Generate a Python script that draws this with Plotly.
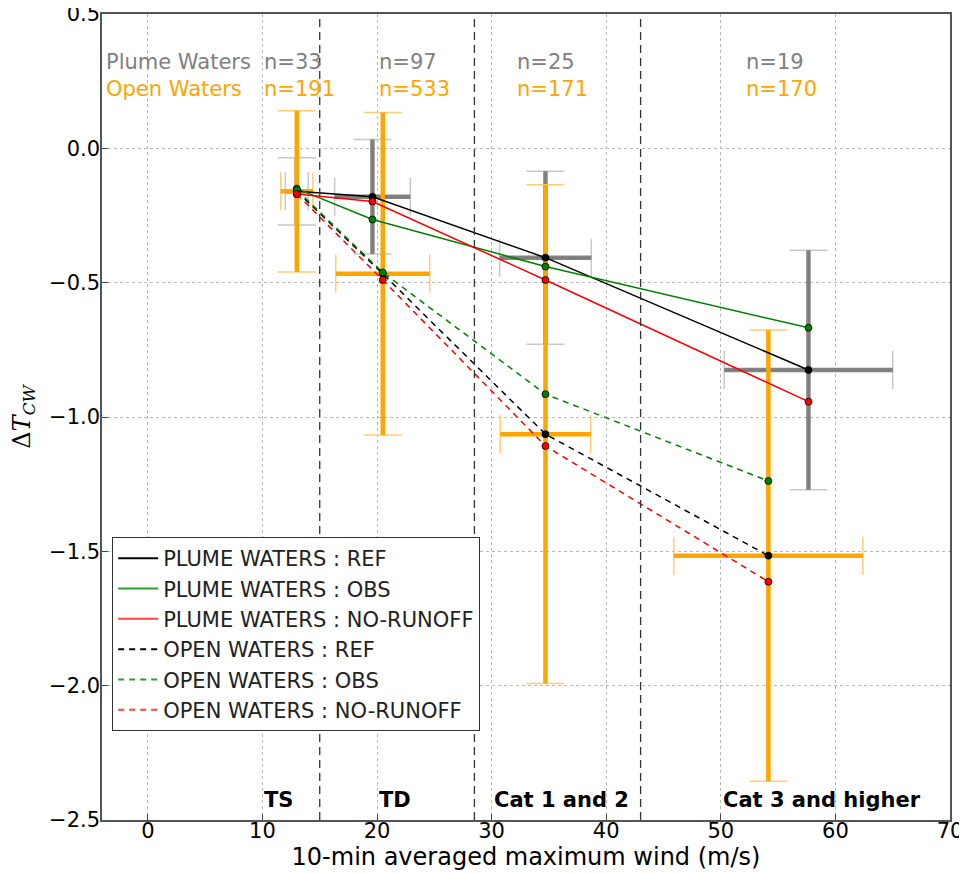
import plotly.graph_objects as go

# ---------------- data ----------------
wind_plume = [13.0, 19.6, 34.7, 57.65]
wind_plume_err = [1.0, 3.3, 4.0, 7.35]
wind_open = [13.0, 20.5, 34.7, 54.15]
wind_open_err = [1.4, 4.1, 3.95, 8.25]

plume_ref = [-0.16, -0.18, -0.407, -0.825]
plume_ref_err = [0.125, 0.213, 0.322, 0.446]
plume_obs = [-0.15, -0.265, -0.44, -0.668]
plume_norunoff = [-0.17, -0.198, -0.49, -0.943]

open_ref = [-0.16, -0.467, -1.064, -1.516]
open_ref_err = [0.30, 0.60, 0.928, 0.84]
open_obs = [-0.155, -0.462, -0.915, -1.238]
open_norunoff = [-0.17, -0.49, -1.108, -1.613]

n_plume = ["n=33", "n=97", "n=25", "n=19"]
n_open = ["n=191", "n=533", "n=171", "n=170"]
n_label_x = [10, 20, 32, 52]

category_names = ["TS", "TD", "Cat 1 and 2", "Cat 3 and higher"]
category_label_x = [10, 20, 30, 50]
category_bounds = [15, 28.5, 43]

x_ticks = [0, 10, 20, 30, 40, 50, 60, 70]
y_ticks = [0.5, 0.0, -0.5, -1.0, -1.5, -2.0, -2.5]

GRAY_BAR = "rgba(110,110,110,0.85)"
GRAY_CAP = "rgba(200,200,200,1)"
ORANGE_BAR = "rgba(255,165,0,1)"
ORANGE_CAP = "rgba(255,205,120,1)"

fig = go.Figure()


def add_errorbars(x, y, xe, ye, bar_color, cap_color):
    # thin light caps
    fig.add_trace(go.Scatter(
        x=x, y=y, mode="markers", marker=dict(size=1, color=cap_color, opacity=0),
        error_x=dict(type="data", array=xe, color=cap_color, thickness=1.5, width=19),
        error_y=dict(type="data", array=ye, color=cap_color, thickness=1.5, width=19),
        showlegend=False, hoverinfo="skip"))
    # thick bars without caps
    fig.add_trace(go.Scatter(
        x=x, y=y, mode="markers", marker=dict(size=1, color=bar_color, opacity=0),
        error_x=dict(type="data", array=xe, color=bar_color, thickness=4.5, width=0),
        error_y=dict(type="data", array=ye, color=bar_color, thickness=4.5, width=0),
        showlegend=False, hoverinfo="skip"))


add_errorbars(wind_plume, plume_ref, wind_plume_err, plume_ref_err, GRAY_BAR, GRAY_CAP)
add_errorbars(wind_open, open_ref, wind_open_err, open_ref_err, ORANGE_BAR, ORANGE_CAP)

series = [
    ("PLUME WATERS : REF", wind_plume, plume_ref, "black", "solid"),
    ("PLUME WATERS : OBS", wind_plume, plume_obs, "green", "solid"),
    ("PLUME WATERS : NO-RUNOFF", wind_plume, plume_norunoff, "red", "solid"),
    ("OPEN WATERS : REF", wind_open, open_ref, "black", "6px,5px"),
    ("OPEN WATERS : OBS", wind_open, open_obs, "green", "6px,5px"),
    ("OPEN WATERS : NO-RUNOFF", wind_open, open_norunoff, "red", "6px,5px"),
]

for name, xs, ys, col, dash in series:
    fig.add_trace(go.Scatter(
        x=xs, y=ys, mode="lines+markers", name=name,
        line=dict(color=col, width=1.5, dash=dash),
        marker=dict(size=7, color=col, line=dict(color="black", width=0.8)),
        showlegend=False))

legend_colors = {"black": "black", "green": "#2ca02c", "red": "#ff4040"}
for name, xs, ys, col, dash in series:
    fig.add_trace(go.Scatter(
        x=[None], y=[None], mode="lines", name=name,
        line=dict(color=legend_colors[col], width=2, dash=dash)))

for xb in category_bounds:
    fig.add_shape(type="line", x0=xb, x1=xb, y0=0, y1=1, xref="x", yref="paper",
                  line=dict(color="#333333", width=1.3, dash="8px,5px"))

# n labels
fig.add_annotation(x=-3.8, y=0.32, text="Plume Waters", showarrow=False, xanchor="left",
                   yanchor="middle", font=dict(color="gray", size=21))
fig.add_annotation(x=-3.8, y=0.222, text="Open Waters", showarrow=False, xanchor="left",
                   yanchor="middle", font=dict(color="orange", size=21))
for xv, tp, to in zip(n_label_x, n_plume, n_open):
    fig.add_annotation(x=xv, y=0.32, text=tp, showarrow=False, xanchor="left",
                       yanchor="middle", font=dict(color="gray", size=21))
    fig.add_annotation(x=xv, y=0.222, text=to, showarrow=False, xanchor="left",
                       yanchor="middle", font=dict(color="orange", size=21))

for xv, txt in zip(category_label_x, category_names):
    fig.add_annotation(x=xv, y=-2.425, text="<b>" + txt + "</b>", showarrow=False,
                       xanchor="left", yanchor="middle",
                       font=dict(color="black", size=21))

# page body adds an 8px margin, so the figure is offset by 8px inside the window
fig.update_layout(
    width=959, height=866,
    margin=dict(l=94, r=17, t=6, b=54, autoexpand=False),
    paper_bgcolor="white", plot_bgcolor="white",
    font=dict(family="DejaVu Sans", color="black"),
    showlegend=True,
    legend=dict(x=0.012, y=0.351, xanchor="left", yanchor="top",
                bgcolor="white", bordercolor="#333333", borderwidth=1,
                font=dict(size=21, color="#222222"), tracegroupgap=0,
                itemwidth=40),
)

fig.update_xaxes(range=[-4, 70], tickvals=x_ticks, ticks="inside", ticklen=6,
                 automargin=True, ticklabelstandoff=-9, ticklabeloverflow="allow",
                 showgrid=True, gridcolor="#b8b8b8", griddash="dot", gridwidth=1,
                 zeroline=False, showline=True, mirror=True, linecolor="#555555",
                 linewidth=1.5, tickfont=dict(size=21),
                 title=dict(text="10-min averaged maximum wind (m/s)", font=dict(size=24),
                            standoff=4))
fig.update_yaxes(range=[-2.5, 0.5], tickvals=y_ticks, tickformat=".1f", ticks="inside",
                 automargin=False, ticklabelstandoff=-4, ticklabeloverflow="allow",
                 ticklen=6, showgrid=True, gridcolor="#b8b8b8", griddash="dot", gridwidth=1,
                 zeroline=False, showline=True, mirror=True, linecolor="#555555",
                 linewidth=1.5, tickfont=dict(size=21),
                 title=dict(text="Δ<i>T</i><sub><i>CW</i></sub>", font=dict(size=24,
                            family="DejaVu Serif"), standoff=12))

fig.write_html("out.html")
